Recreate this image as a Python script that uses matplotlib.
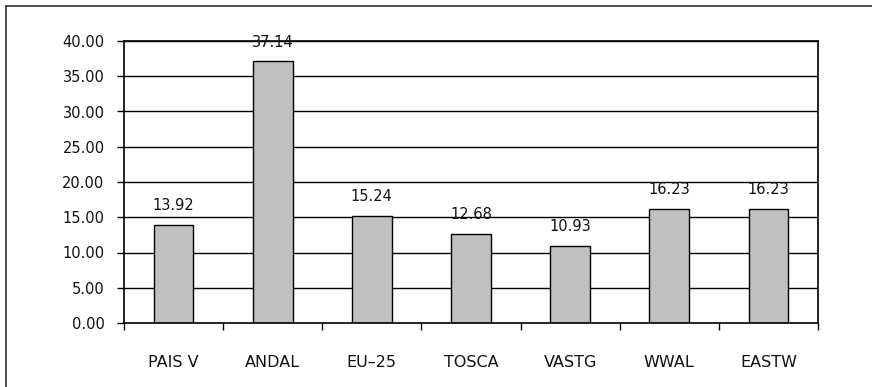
import matplotlib
matplotlib.use("Agg")
import matplotlib.pyplot as plt
from matplotlib.lines import Line2D
import numpy as np

categories = ["PAIS V", "ANDAL", "EU\u201325", "TOSCA", "VASTG", "WWAL", "EASTW"]
values = [13.92, 37.14, 15.24, 12.68, 10.93, 16.23, 16.23]
yticks = [0, 5, 10, 15, 20, 25, 30, 35, 40]

plt.rcParams['font.family'] = ['DejaVu Sans']
FS = 10.5
FSC = 11.5
fig = plt.figure(figsize=(8.72, 3.87), dpi=100)
ax = fig.add_axes([124/872, 64/387, (818-124)/872, (323-41)/387])

x = np.arange(len(categories))
for yv in yticks[1:]:
    ax.axhline(yv, color='black', lw=1.0, zorder=1)
bars = ax.bar(x, values, width=0.4, color='#C0C0C0', edgecolor='black', lw=1.0, zorder=2)
for xi, v in zip(x, values):
    ax.annotate(f"{v:.2f}", (xi, v), xytext=(0, 8.3), textcoords='offset points',
                ha='center', va='bottom', fontsize=FS, color='#111111', zorder=3)

ax.set_xlim(-0.5, len(categories) - 0.5)
ax.set_ylim(0, 40)
ax.set_yticks(yticks)
ax.set_yticklabels([f"{t:.2f}" for t in yticks], fontsize=FS, color='#111111')
ax.set_xticks(x)
ax.set_xticklabels(categories, fontsize=FSC, color='#111111')
ax.set_xticks(np.arange(len(categories) + 1) - 0.5, minor=True)
ax.tick_params(axis='x', which='major', length=0, pad=23)
ax.tick_params(axis='x', which='minor', length=5, width=1, direction='out')
ax.tick_params(axis='y', length=5, width=1, direction='out', pad=9)
for s in ax.spines.values():
    s.set_linewidth(1.2)
    s.set_color('black')

# outer border (only top and left visible)
fig.add_artist(Line2D([6/872, 6/872], [0, 1 - 6/387], transform=fig.transFigure, color='#333333', lw=1.2))
fig.add_artist(Line2D([6/872, 1], [1 - 6/387, 1 - 6/387], transform=fig.transFigure, color='#333333', lw=1.2))

fig.savefig("out.png", dpi=100)
